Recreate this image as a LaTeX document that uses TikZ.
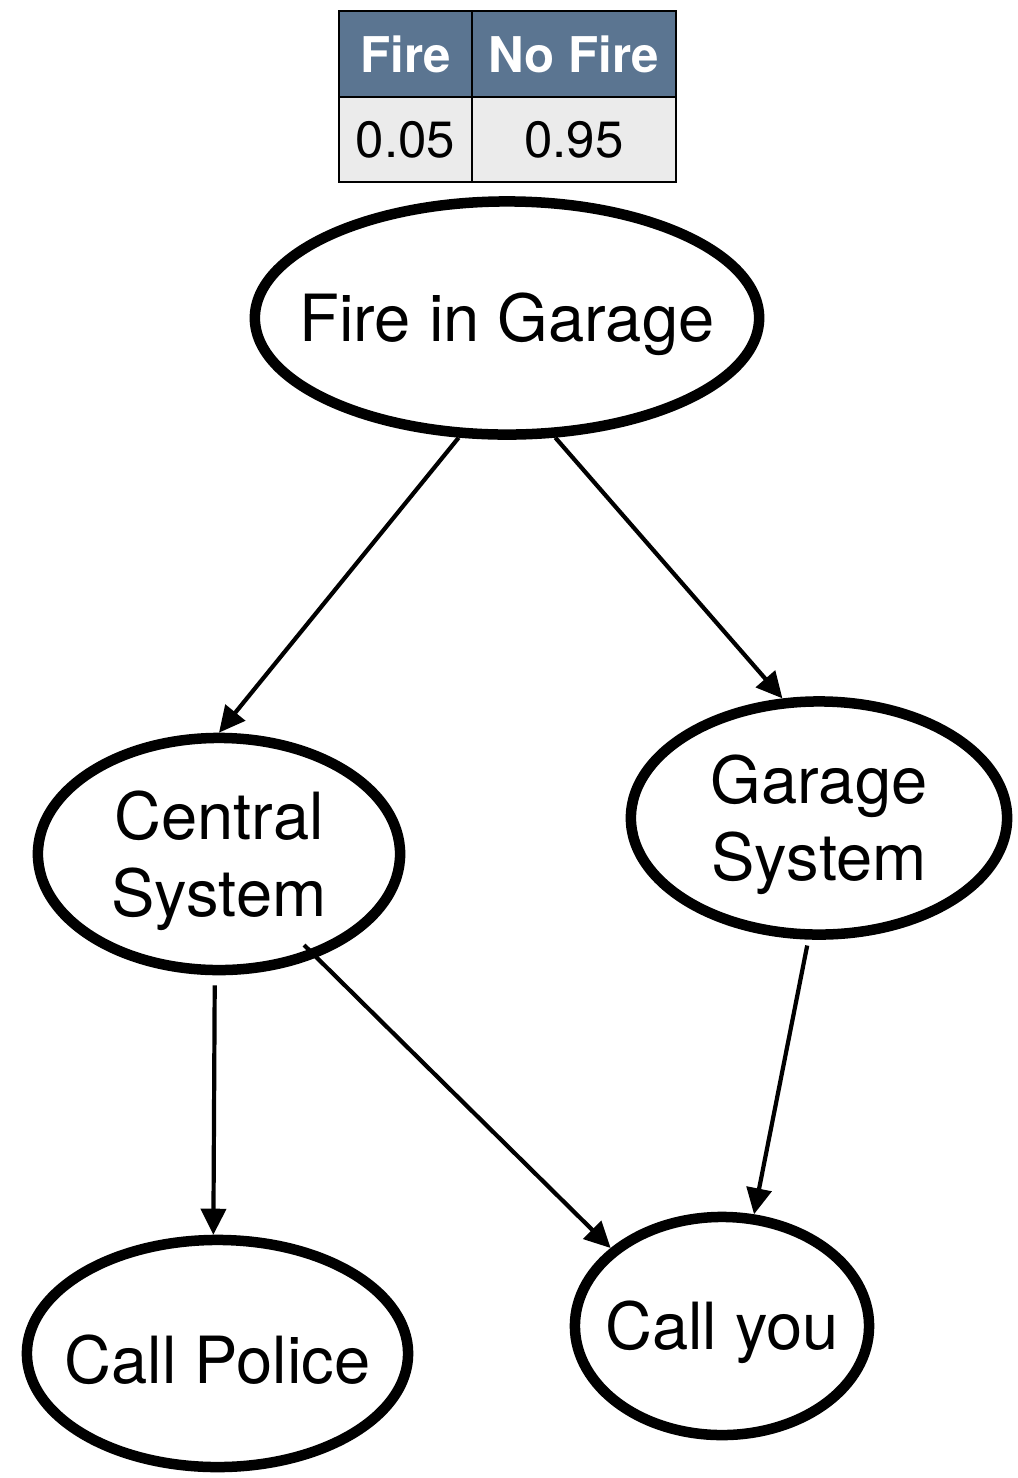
\documentclass[tikz,border=0pt]{standalone}
\usepackage{fontspec}
\setmainfont{TeX Gyre Heros}
\usepackage{tikz}
\usetikzlibrary{arrows.meta, shapes.geometric}

\definecolor{headblue}{HTML}{5B7591}
\definecolor{cellgray}{HTML}{EBEBEB}

\tikzset{
  bnode/.style={draw, ellipse, line width=0.105cm, inner sep=0pt},
  btext/.style={align=center, yshift=-0.065cm, font=\fontsize{18.5}{22}\selectfont},
  arr/.style={-{Triangle[length=0.26cm,width=0.25cm]}, line width=0.042cm},
  headcell/.style={draw, line width=0.02cm, fill=headblue, text=white, inner sep=0pt,
    minimum height=0.86cm, font=\fontsize{14}{16}\selectfont\bfseries},
  valcell/.style={draw, line width=0.02cm, fill=cellgray, inner sep=0pt,
    minimum height=0.85cm, font=\fontsize{14.5}{16}\selectfont}
}

\begin{document}
\begin{tikzpicture}[x=0.01cm, y=-0.01cm]
            \useasboundingbox (0,0) rectangle (1018,1478);
            % Prior table
            \node[headcell, minimum width=1.33cm] (hfire) at (405.5,54) {Fire};
            \node[headcell, minimum width=2.04cm] (hnofire) at (574,54) {No Fire};
            \node[valcell, minimum width=1.33cm] (vfire) at (405.5,139.5) {0.05};
            \node[valcell, minimum width=2.04cm] (vnofire) at (574,139.5) {0.95};
            % Nodes
            \node[bnode, minimum width=5.04cm, minimum height=2.33cm,
              label={[btext]center:Fire in Garage}] (fire) at (507,318) {};
            \node[bnode, minimum width=3.62cm, minimum height=2.32cm,
              label={[btext]center:Central\\System}] (central) at (219,854) {};
            \node[bnode, minimum width=3.76cm, minimum height=2.33cm,
              label={[btext]center:Garage\\System}] (garage) at (819,818) {};
            \node[bnode, minimum width=3.81cm, minimum height=2.27cm,
              label={[btext]center:Call Police}] (police) at (217.5,1353.5) {};
            \node[bnode, minimum width=2.94cm, minimum height=2.18cm,
              label={[btext]center:Call you}] (you) at (722,1326) {};
            \coordinate (cstart) at (304,945);
            % Arrows
            \draw[arr] (fire.248) -- (central.90);
            \draw[arr] (fire.292) -- (garage.107);
            \draw[arr, shorten <=0.1cm] (central.268) -- (police.92);
            \draw[arr] (cstart) -- (you.145);
            \draw[arr, shorten <=0.06cm] (garage.265) -- (you.74);
        \end{tikzpicture}
\end{document}
